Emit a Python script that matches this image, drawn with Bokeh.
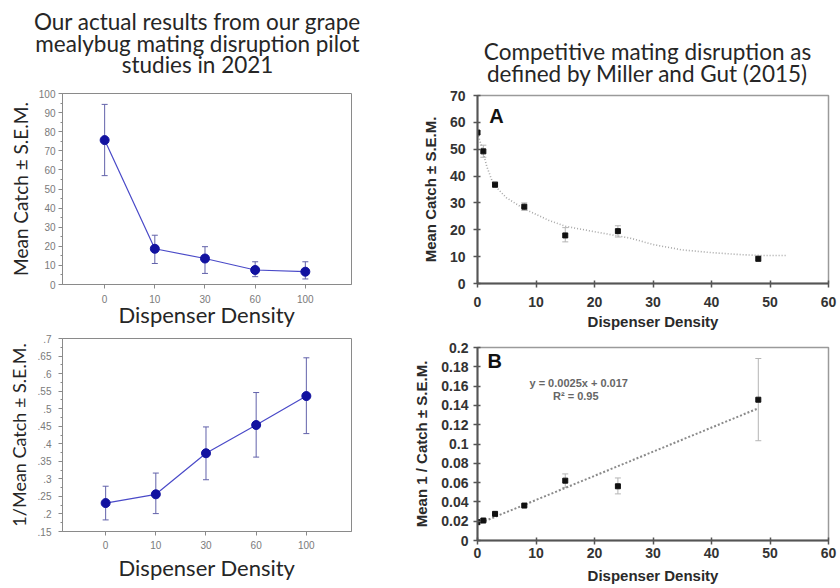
from bokeh.plotting import figure
from bokeh.models import (Range1d, FixedTicker, SingleIntervalTicker, Whisker,
                          TeeHead, ColumnDataSource, Label, NumeralTickFormatter)
from bokeh.layouts import row, column
from bokeh.embed import file_html
from bokeh.resources import INLINE

# ---------------- data ----------------
density_labels = ["0", "10", "30", "60", "100"]
catch_mean = [75.6, 18.7, 13.6, 7.6, 6.7]
catch_upper = [94.3, 25.8, 19.8, 11.9, 11.9]
catch_lower = [57.0, 11.0, 5.8, 4.1, 2.9]

inv_mean = [0.231, 0.256, 0.373, 0.4535, 0.536]
inv_upper = [0.279, 0.3165, 0.448, 0.546, 0.645]
inv_lower = [0.183, 0.201, 0.2975, 0.362, 0.429]
inv_ticks = [0.15, 0.2, 0.25, 0.3, 0.35, 0.4, 0.45, 0.5, 0.55, 0.6, 0.65, 0.7]
inv_tick_labels = [".15", ".2", ".25", ".3", ".35", ".4", ".45", ".5", ".55", ".6", ".65", ".7"]

mg_density = [0, 1, 3, 8, 15, 24, 48]
mg_catch = [56.2, 49.2, 36.8, 28.6, 17.9, 19.5, 9.2]
mg_catch_upper = [56.8, 51.5, 37.8, 30.0, 20.8, 21.5, 10.2]
mg_catch_lower = [55.6, 47.0, 35.8, 27.2, 15.5, 17.3, 8.3]
mg_fit_x = [0, 0.7, 1.6, 2.7, 4.9, 7.8, 12.2, 15, 20.7, 26.3, 30, 35, 40, 45, 48.8, 52.7]
mg_fit_y = [56, 51, 43.5, 37, 32, 28, 23.5, 21.3, 19, 16.8, 14.5, 12.5, 11.5, 10.75, 10.4, 10.4]

mg_inv = [0.019, 0.0207, 0.0276, 0.0362, 0.062, 0.0562, 0.1459]
mg_inv_upper = [0.019, 0.0212, 0.028, 0.037, 0.069, 0.0648, 0.1886]
mg_inv_lower = [0.019, 0.0202, 0.0272, 0.0354, 0.055, 0.0483, 0.1034]
mg_reg_x = [0, 48]
mg_reg_y = [0.017, 0.137]
mg_inv_ticks = [0, 0.02, 0.04, 0.06, 0.08, 0.1, 0.12, 0.14, 0.16, 0.18, 0.2]

left_title = ["Our actual results from our grape",
              "mealybug mating disruption pilot",
              "studies in 2021"]
right_title = ["Competitive mating disruption as",
               "defined by Miller and Gut (2015)"]

# ---------------- styles ----------------
CAL = "Lato"
ARI = "Liberation Sans"
L_AX = "#8a8a8a"
L_TXT = "#7a7a7a"
BLUE_PT = "#1212a0"
BLUE_LN = "#4a4ac8"
BLUE_ERR = "#6262aa"
TITLE_COL = "#262626"
TOP_H = 88

x_idx = list(range(len(density_labels)))
x_map = dict(zip(x_idx, density_labels))

# ---------------- title strip (full width) ----------------
tp = figure(width=840, height=TOP_H, x_range=Range1d(0, 840), y_range=Range1d(TOP_H, 0),
            x_axis_type=None, y_axis_type=None, min_border_left=0, min_border_right=0,
            min_border_top=0, min_border_bottom=0, output_backend="svg",
            toolbar_location=None)
tp.outline_line_color = None
tp.xgrid.visible = False
tp.ygrid.visible = False
for lines, cx, ys in ((left_title, 197, [21, 43, 64]), (right_title, 647, [51, 73])):
    for txt, yv in zip(lines, ys):
        tp.add_layout(Label(x=cx, y=yv, text=txt, text_font=CAL, text_font_size="22.5px",
                            text_align="center", text_baseline="middle",
                            text_color=TITLE_COL))


def left_panel(height, y_range, x_range, borders, ylabel, xlabel,
               ticker_y, y_overrides, ystand, xstand, xlab_stand, ylab_stand, ylab_size):
    bl, br, bt, bb = borders
    p = figure(width=390, height=height, x_range=x_range, y_range=y_range,
               min_border_left=bl, min_border_right=br, min_border_top=bt,
               min_border_bottom=bb, output_backend="svg", toolbar_location=None)
    p.xgrid.visible = False
    p.ygrid.visible = False
    p.outline_line_color = L_AX
    p.outline_line_width = 1
    xa = p.xaxis[0]
    xa.ticker = FixedTicker(ticks=x_idx)
    xa.major_label_overrides = x_map
    ya = p.yaxis[0]
    ya.ticker = ticker_y
    if y_overrides:
        ya.major_label_overrides = y_overrides
    for ax in (xa, ya):
        ax.axis_line_color = L_AX
        ax.major_tick_line_color = L_AX
        ax.minor_tick_line_color = L_AX
        ax.major_tick_out = 4
        ax.major_tick_in = 0
        ax.minor_tick_out = 2
        ax.minor_tick_in = 0
        ax.major_label_text_color = L_TXT
        ax.major_label_text_font = ARI
        ax.major_label_text_font_size = "10px"
        ax.axis_label_text_font = CAL
        ax.axis_label_text_font_style = "normal"
        ax.axis_label_text_color = TITLE_COL
    xa.axis_label_text_font_size = "22px"
    ya.axis_label_text_font_size = ylab_size
    xa.axis_label = xlabel
    ya.axis_label = ylabel
    ya.major_label_standoff = ystand
    xa.major_label_standoff = xstand
    xa.axis_label_standoff = xlab_stand
    ya.axis_label_standoff = ylab_stand
    return p


def add_left_series(p, means, uppers, lowers):
    src = ColumnDataSource(dict(x=x_idx, y=means, upper=uppers, lower=lowers))
    p.add_layout(Whisker(source=src, base="x", upper="upper", lower="lower",
                         dimension="height", line_color=BLUE_ERR, line_width=1,
                         upper_head=TeeHead(size=6, line_color=BLUE_ERR, line_width=1),
                         lower_head=TeeHead(size=6, line_color=BLUE_ERR, line_width=1)))
    p.line("x", "y", source=src, line_color=BLUE_LN, line_width=1.2)
    p.scatter("x", "y", source=src, size=9, marker="circle",
              fill_color=BLUE_PT, line_color=BLUE_PT)


# ---- panel 1 (top left) ----
p1 = left_panel(330 - TOP_H, Range1d(0, 100), Range1d(-0.84, 4.92), (57, 38, 93 - TOP_H, 43),
                "Mean Catch \u00b1 S.E.M.", "Dispenser Density",
                SingleIntervalTicker(interval=10, num_minor_ticks=2), None,
                3, 6, -5, 4, "19px")
add_left_series(p1, catch_mean, catch_upper, catch_lower)

# ---- panel 2 (bottom left) ----
inv_minor = [(a + b) / 2 for a, b in zip(inv_ticks[:-1], inv_ticks[1:])]
p2 = left_panel(258, Range1d(0.15, 0.7), Range1d(-0.86, 4.9), (62, 39, 8, 57),
                "1/Mean Catch \u00b1 S.E.M.", "Dispenser Density",
                FixedTicker(ticks=inv_ticks, minor_ticks=inv_minor),
                dict(zip(inv_ticks, inv_tick_labels)),
                7, 5, 2, 5, "18px")
add_left_series(p2, inv_mean, inv_upper, inv_lower)

# ---------------- right panels ----------------
R_AX = "#555555"
R_OUT = "#9a9a9a"
R_TXT = "#333333"
R_ERR = "#b5b5b5"


def right_panel(height, y_range, borders, ylabel, ticker_y, yfmt, xstand, xlab_stand,
                ystand, ylab_stand):
    bl, br, bt, bb = borders
    p = figure(width=450, height=height, x_range=Range1d(0, 60), y_range=y_range,
               min_border_left=bl, min_border_right=br, min_border_top=bt,
               min_border_bottom=bb, output_backend="svg", toolbar_location=None)
    p.xgrid.visible = False
    p.ygrid.visible = False
    p.outline_line_color = R_OUT
    p.outline_line_width = 1.5
    xa = p.xaxis[0]
    ya = p.yaxis[0]
    xa.ticker = SingleIntervalTicker(interval=10, num_minor_ticks=0)
    ya.ticker = ticker_y
    if yfmt is not None:
        ya.formatter = yfmt
    for ax in (xa, ya):
        ax.axis_line_color = R_AX
        ax.axis_line_width = 2
        ax.major_tick_line_color = R_AX
        ax.major_tick_line_width = 1.5
        ax.major_tick_in = 3
        ax.major_tick_out = 4
        ax.minor_tick_line_color = None
        ax.major_label_text_color = R_TXT
        ax.major_label_text_font = ARI
        ax.major_label_text_font_style = "bold"
        ax.major_label_text_font_size = "14px"
        ax.axis_label_text_font = ARI
        ax.axis_label_text_font_style = "bold"
        ax.axis_label_text_font_size = "15px"
        ax.axis_label_text_color = "#2a2a2a"
    xa.axis_label = "Dispenser Density"
    ya.axis_label = ylabel
    xa.major_label_standoff = xstand
    xa.axis_label_standoff = xlab_stand
    ya.major_label_standoff = ystand
    ya.axis_label_standoff = ylab_stand
    return p


def add_right_series(p, xs, ys, ups, lows):
    src = ColumnDataSource(dict(x=xs, y=ys, upper=ups, lower=lows))
    p.add_layout(Whisker(source=src, base="x", upper="upper", lower="lower",
                         dimension="height", line_color=R_ERR, line_width=1,
                         upper_head=TeeHead(size=6, line_color=R_ERR, line_width=1),
                         lower_head=TeeHead(size=6, line_color=R_ERR, line_width=1)))
    p.scatter("x", "y", source=src, size=5, marker="square",
              fill_color="#111111", line_color="#111111")


# ---- panel 3 (top right) ----
p3 = right_panel(335 - TOP_H, Range1d(0, 70), (87, 7, 95 - TOP_H, 52),
                 "Mean Catch \u00b1 S.E.M.",
                 SingleIntervalTicker(interval=10, num_minor_ticks=0), None,
                 9, 3, 8, 8)
p3.line(mg_fit_x, mg_fit_y, line_color="#a8a8a8", line_width=1.6, line_dash="1 2")
add_right_series(p3, mg_density, mg_catch, mg_catch_upper, mg_catch_lower)
p3.add_layout(Label(x=2.0, y=62.5, text="A", text_font=ARI, text_font_style="bold",
                    text_font_size="20px", text_align="left", text_baseline="middle",
                    text_color="#111111"))

# ---- panel 4 (bottom right) ----
p4 = right_panel(253, Range1d(0, 0.2), (87, 12, 12, 48), "Mean 1 / Catch \u00b1 S.E.M.",
                 FixedTicker(ticks=mg_inv_ticks), NumeralTickFormatter(format="0.[00]"),
                 3, 6, 5, 8)
p4.line(mg_reg_x, mg_reg_y, line_color="#8a8a8a", line_width=2, line_dash="2 2")
add_right_series(p4, mg_density, mg_inv, mg_inv_upper, mg_inv_lower)
p4.add_layout(Label(x=1.7, y=0.186, text="B", text_font=ARI, text_font_style="bold",
                    text_font_size="20px", text_align="left", text_baseline="middle",
                    text_color="#111111"))
p4.add_layout(Label(x=17.3, y=0.163, text="y = 0.0025x + 0.017", text_font=ARI,
                    text_font_style="bold", text_font_size="11px", text_align="center",
                    text_baseline="middle", text_color="#666666"))
p4.add_layout(Label(x=16.8, y=0.150, text="R\u00b2 = 0.95", text_font=ARI,
                    text_font_style="bold", text_font_size="11px", text_align="center",
                    text_baseline="middle", text_color="#666666"))

layout = column(tp, row(column(p1, p2), column(p3, p4)))
open("out.html", "w").write(file_html(layout, INLINE))
